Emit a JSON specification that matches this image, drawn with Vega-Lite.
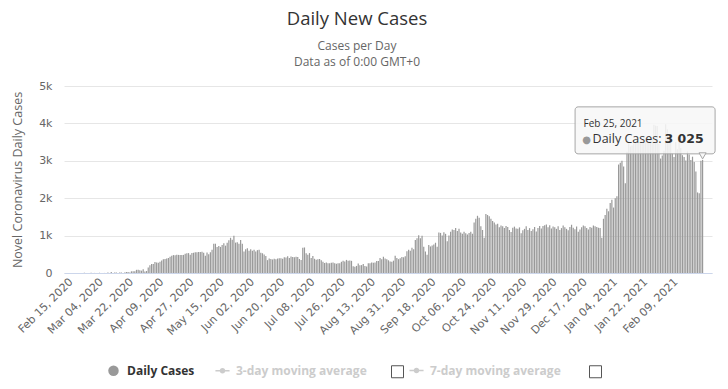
{
"$schema": "https://vega.github.io/schema/vega-lite/v6.json",
"width": 648, "height": 187,
"autosize": {"type": "none"},
"padding": {"left": 64, "top": 86, "right": 16, "bottom": 116},
"title": {"text": "Daily New Cases", "subtitle": ["Cases per Day", "Data as of 0:00 GMT+0"], "anchor": "middle", "frame": "group", "dx": -31, "offset": 12, "fontSize": 18.5, "fontWeight": "normal", "color": "#333333", "font": "Open Sans", "subtitleFontSize": 12, "subtitleColor": "#666666", "subtitleFont": "Open Sans", "subtitlePadding": 13, "subtitleLineHeight": 16},
"datasets": {
"cases": [
{"date":"2020-02-15","cases":0},{"date":"2020-02-16","cases":0},{"date":"2020-02-17","cases":0},{"date":"2020-02-18","cases":0},{"date":"2020-02-19","cases":0},{"date":"2020-02-20","cases":0},{"date":"2020-02-21","cases":0},{"date":"2020-02-22","cases":0},{"date":"2020-02-23","cases":4},{"date":"2020-02-24","cases":0},{"date":"2020-02-25","cases":0},{"date":"2020-02-26","cases":0},{"date":"2020-02-27","cases":6},{"date":"2020-02-28","cases":0},{"date":"2020-02-29","cases":2},
{"date":"2020-03-01","cases":2},{"date":"2020-03-02","cases":0},{"date":"2020-03-03","cases":6},{"date":"2020-03-04","cases":0},{"date":"2020-03-05","cases":0},{"date":"2020-03-06","cases":2},{"date":"2020-03-07","cases":0},{"date":"2020-03-08","cases":15},{"date":"2020-03-09","cases":0},{"date":"2020-03-10","cases":29},{"date":"2020-03-11","cases":0},{"date":"2020-03-12","cases":11},{"date":"2020-03-13","cases":11},{"date":"2020-03-14","cases":0},{"date":"2020-03-15","cases":13},{"date":"2020-03-16","cases":12},{"date":"2020-03-17","cases":0},{"date":"2020-03-18","cases":15},{"date":"2020-03-19","cases":27},{"date":"2020-03-20","cases":27},{"date":"2020-03-21","cases":13},{"date":"2020-03-22","cases":45},{"date":"2020-03-23","cases":45},{"date":"2020-03-24","cases":50},{"date":"2020-03-25","cases":85},{"date":"2020-03-26","cases":85},{"date":"2020-03-27","cases":72},{"date":"2020-03-28","cases":63},{"date":"2020-03-29","cases":102},{"date":"2020-03-30","cases":41},{"date":"2020-03-31","cases":53},
{"date":"2020-04-01","cases":150},{"date":"2020-04-02","cases":210},{"date":"2020-04-03","cases":240},{"date":"2020-04-04","cases":241},{"date":"2020-04-05","cases":294},{"date":"2020-04-06","cases":283},{"date":"2020-04-07","cases":277},{"date":"2020-04-08","cases":300},{"date":"2020-04-09","cases":331},{"date":"2020-04-10","cases":370},{"date":"2020-04-11","cases":376},{"date":"2020-04-12","cases":387},{"date":"2020-04-13","cases":398},{"date":"2020-04-14","cases":432},{"date":"2020-04-15","cases":460},{"date":"2020-04-16","cases":479},{"date":"2020-04-17","cases":477},{"date":"2020-04-18","cases":490},{"date":"2020-04-19","cases":484},{"date":"2020-04-20","cases":483},{"date":"2020-04-21","cases":479},{"date":"2020-04-22","cases":484},{"date":"2020-04-23","cases":518},{"date":"2020-04-24","cases":525},{"date":"2020-04-25","cases":532},{"date":"2020-04-26","cases":490},{"date":"2020-04-27","cases":536},{"date":"2020-04-28","cases":541},{"date":"2020-04-29","cases":552},{"date":"2020-04-30","cases":557},
{"date":"2020-05-01","cases":561},{"date":"2020-05-02","cases":564},{"date":"2020-05-03","cases":567},{"date":"2020-05-04","cases":541},{"date":"2020-05-05","cases":462},{"date":"2020-05-06","cases":546},{"date":"2020-05-07","cases":502},{"date":"2020-05-08","cases":553},{"date":"2020-05-09","cases":624},{"date":"2020-05-10","cases":781},{"date":"2020-05-11","cases":783},{"date":"2020-05-12","cases":698},{"date":"2020-05-13","cases":725},{"date":"2020-05-14","cases":698},{"date":"2020-05-15","cases":747},{"date":"2020-05-16","cases":796},{"date":"2020-05-17","cases":731},{"date":"2020-05-18","cases":812},{"date":"2020-05-19","cases":873},{"date":"2020-05-20","cases":941},{"date":"2020-05-21","cases":892},{"date":"2020-05-22","cases":994},{"date":"2020-05-23","cases":812},{"date":"2020-05-24","cases":822},{"date":"2020-05-25","cases":779},{"date":"2020-05-26","cases":883},{"date":"2020-05-27","cases":779},{"date":"2020-05-28","cases":573},{"date":"2020-05-29","cases":638},{"date":"2020-05-30","cases":661},{"date":"2020-05-31","cases":596},
{"date":"2020-06-01","cases":635},{"date":"2020-06-02","cases":596},{"date":"2020-06-03","cases":623},{"date":"2020-06-04","cases":572},{"date":"2020-06-05","cases":611},{"date":"2020-06-06","cases":624},{"date":"2020-06-07","cases":540},{"date":"2020-06-08","cases":528},{"date":"2020-06-09","cases":497},{"date":"2020-06-10","cases":456},{"date":"2020-06-11","cases":344},{"date":"2020-06-12","cases":388},{"date":"2020-06-13","cases":375},{"date":"2020-06-14","cases":362},{"date":"2020-06-15","cases":384},{"date":"2020-06-16","cases":366},{"date":"2020-06-17","cases":386},{"date":"2020-06-18","cases":392},{"date":"2020-06-19","cases":393},{"date":"2020-06-20","cases":379},{"date":"2020-06-21","cases":424},{"date":"2020-06-22","cases":415},{"date":"2020-06-23","cases":451},{"date":"2020-06-24","cases":404},{"date":"2020-06-25","cases":444},{"date":"2020-06-26","cases":428},{"date":"2020-06-27","cases":420},{"date":"2020-06-28","cases":435},{"date":"2020-06-29","cases":427},{"date":"2020-06-30","cases":375},
{"date":"2020-07-01","cases":350},{"date":"2020-07-02","cases":672},{"date":"2020-07-03","cases":683},{"date":"2020-07-04","cases":530},{"date":"2020-07-05","cases":489},{"date":"2020-07-06","cases":532},{"date":"2020-07-07","cases":402},{"date":"2020-07-08","cases":456},{"date":"2020-07-09","cases":380},{"date":"2020-07-10","cases":355},{"date":"2020-07-11","cases":370},{"date":"2020-07-12","cases":375},{"date":"2020-07-13","cases":340},{"date":"2020-07-14","cases":300},{"date":"2020-07-15","cases":270},{"date":"2020-07-16","cases":283},{"date":"2020-07-17","cases":264},{"date":"2020-07-18","cases":258},{"date":"2020-07-19","cases":275},{"date":"2020-07-20","cases":281},{"date":"2020-07-21","cases":264},{"date":"2020-07-22","cases":246},{"date":"2020-07-23","cases":260},{"date":"2020-07-24","cases":262},{"date":"2020-07-25","cases":300},{"date":"2020-07-26","cases":325},{"date":"2020-07-27","cases":309},{"date":"2020-07-28","cases":350},{"date":"2020-07-29","cases":330},{"date":"2020-07-30","cases":336},{"date":"2020-07-31","cases":325},
{"date":"2020-08-01","cases":179},{"date":"2020-08-02","cases":164},{"date":"2020-08-03","cases":189},{"date":"2020-08-04","cases":254},{"date":"2020-08-05","cases":206},{"date":"2020-08-06","cases":211},{"date":"2020-08-07","cases":239},{"date":"2020-08-08","cases":185},{"date":"2020-08-09","cases":176},{"date":"2020-08-10","cases":262},{"date":"2020-08-11","cases":258},{"date":"2020-08-12","cases":281},{"date":"2020-08-13","cases":273},{"date":"2020-08-14","cases":283},{"date":"2020-08-15","cases":321},{"date":"2020-08-16","cases":322},{"date":"2020-08-17","cases":400},{"date":"2020-08-18","cases":365},{"date":"2020-08-19","cases":435},{"date":"2020-08-20","cases":390},{"date":"2020-08-21","cases":370},{"date":"2020-08-22","cases":340},{"date":"2020-08-23","cases":305},{"date":"2020-08-24","cases":300},{"date":"2020-08-25","cases":330},{"date":"2020-08-26","cases":460},{"date":"2020-08-27","cases":401},{"date":"2020-08-28","cases":370},{"date":"2020-08-29","cases":394},{"date":"2020-08-30","cases":430},{"date":"2020-08-31","cases":420},
{"date":"2020-09-01","cases":450},{"date":"2020-09-02","cases":580},{"date":"2020-09-03","cases":625},{"date":"2020-09-04","cases":598},{"date":"2020-09-05","cases":672},{"date":"2020-09-06","cases":635},{"date":"2020-09-07","cases":883},{"date":"2020-09-08","cases":930},{"date":"2020-09-09","cases":1007},{"date":"2020-09-10","cases":931},{"date":"2020-09-11","cases":994},{"date":"2020-09-12","cases":700},{"date":"2020-09-13","cases":575},{"date":"2020-09-14","cases":490},{"date":"2020-09-15","cases":750},{"date":"2020-09-16","cases":710},{"date":"2020-09-17","cases":735},{"date":"2020-09-18","cases":760},{"date":"2020-09-19","cases":809},{"date":"2020-09-20","cases":705},{"date":"2020-09-21","cases":1083},{"date":"2020-09-22","cases":1072},{"date":"2020-09-23","cases":1004},{"date":"2020-09-24","cases":1088},{"date":"2020-09-25","cases":1047},{"date":"2020-09-26","cases":850},{"date":"2020-09-27","cases":1005},{"date":"2020-09-28","cases":1100},{"date":"2020-09-29","cases":1160},{"date":"2020-09-30","cases":1150},
{"date":"2020-10-01","cases":1200},{"date":"2020-10-02","cases":1120},{"date":"2020-10-03","cases":1180},{"date":"2020-10-04","cases":1080},{"date":"2020-10-05","cases":1050},{"date":"2020-10-06","cases":1100},{"date":"2020-10-07","cases":1060},{"date":"2020-10-08","cases":1030},{"date":"2020-10-09","cases":1070},{"date":"2020-10-10","cases":1100},{"date":"2020-10-11","cases":1050},{"date":"2020-10-12","cases":1350},{"date":"2020-10-13","cases":1450},{"date":"2020-10-14","cases":1530},{"date":"2020-10-15","cases":1480},{"date":"2020-10-16","cases":1250},{"date":"2020-10-17","cases":1150},{"date":"2020-10-18","cases":940},{"date":"2020-10-19","cases":1578},{"date":"2020-10-20","cases":1550},{"date":"2020-10-21","cases":1520},{"date":"2020-10-22","cases":1450},{"date":"2020-10-23","cases":1390},{"date":"2020-10-24","cases":1350},{"date":"2020-10-25","cases":1300},{"date":"2020-10-26","cases":1320},{"date":"2020-10-27","cases":1220},{"date":"2020-10-28","cases":1270},{"date":"2020-10-29","cases":1250},{"date":"2020-10-30","cases":1200},{"date":"2020-10-31","cases":1260},
{"date":"2020-11-01","cases":1230},{"date":"2020-11-02","cases":1150},{"date":"2020-11-03","cases":1096},{"date":"2020-11-04","cases":1210},{"date":"2020-11-05","cases":1240},{"date":"2020-11-06","cases":1190},{"date":"2020-11-07","cases":1180},{"date":"2020-11-08","cases":1220},{"date":"2020-11-09","cases":1060},{"date":"2020-11-10","cases":1140},{"date":"2020-11-11","cases":1180},{"date":"2020-11-12","cases":1250},{"date":"2020-11-13","cases":1150},{"date":"2020-11-14","cases":1200},{"date":"2020-11-15","cases":1120},{"date":"2020-11-16","cases":1170},{"date":"2020-11-17","cases":1230},{"date":"2020-11-18","cases":1110},{"date":"2020-11-19","cases":1200},{"date":"2020-11-20","cases":1260},{"date":"2020-11-21","cases":1190},{"date":"2020-11-22","cases":1260},{"date":"2020-11-23","cases":1280},{"date":"2020-11-24","cases":1300},{"date":"2020-11-25","cases":1220},{"date":"2020-11-26","cases":1280},{"date":"2020-11-27","cases":1190},{"date":"2020-11-28","cases":1240},{"date":"2020-11-29","cases":1220},{"date":"2020-11-30","cases":1180},
{"date":"2020-12-01","cases":1250},{"date":"2020-12-02","cases":1150},{"date":"2020-12-03","cases":1200},{"date":"2020-12-04","cases":1270},{"date":"2020-12-05","cases":1220},{"date":"2020-12-06","cases":1180},{"date":"2020-12-07","cases":1140},{"date":"2020-12-08","cases":1230},{"date":"2020-12-09","cases":1290},{"date":"2020-12-10","cases":1210},{"date":"2020-12-11","cases":1170},{"date":"2020-12-12","cases":1240},{"date":"2020-12-13","cases":1100},{"date":"2020-12-14","cases":1160},{"date":"2020-12-15","cases":1220},{"date":"2020-12-16","cases":1270},{"date":"2020-12-17","cases":1250},{"date":"2020-12-18","cases":1200},{"date":"2020-12-19","cases":1160},{"date":"2020-12-20","cases":1230},{"date":"2020-12-21","cases":1210},{"date":"2020-12-22","cases":1270},{"date":"2020-12-23","cases":1250},{"date":"2020-12-24","cases":1230},{"date":"2020-12-25","cases":1210},{"date":"2020-12-26","cases":1200},{"date":"2020-12-27","cases":940},{"date":"2020-12-28","cases":1450},{"date":"2020-12-29","cases":1550},{"date":"2020-12-30","cases":1720},{"date":"2020-12-31","cases":1650},
{"date":"2021-01-01","cases":1870},{"date":"2021-01-02","cases":1960},{"date":"2021-01-03","cases":1750},{"date":"2021-01-04","cases":2000},{"date":"2021-01-05","cases":2050},{"date":"2021-01-06","cases":2900},{"date":"2021-01-07","cases":2950},{"date":"2021-01-08","cases":3000},{"date":"2021-01-09","cases":2850},{"date":"2021-01-10","cases":2400},{"date":"2021-01-11","cases":3243},{"date":"2021-01-12","cases":3471},{"date":"2021-01-13","cases":3382},{"date":"2021-01-14","cases":3407},{"date":"2021-01-15","cases":3453},{"date":"2021-01-16","cases":3506},{"date":"2021-01-17","cases":3471},{"date":"2021-01-18","cases":3492},{"date":"2021-01-19","cases":3529},{"date":"2021-01-20","cases":3566},{"date":"2021-01-21","cases":3552},{"date":"2021-01-22","cases":3600},{"date":"2021-01-23","cases":3579},{"date":"2021-01-24","cases":3539},{"date":"2021-01-25","cases":3567},{"date":"2021-01-26","cases":3591},{"date":"2021-01-27","cases":3962},{"date":"2021-01-28","cases":3939},{"date":"2021-01-29","cases":3928},{"date":"2021-01-30","cases":3450},{"date":"2021-01-31","cases":3060},
{"date":"2021-02-01","cases":3140},{"date":"2021-02-02","cases":3268},{"date":"2021-02-03","cases":3977},{"date":"2021-02-04","cases":3843},{"date":"2021-02-05","cases":3566},{"date":"2021-02-06","cases":3500},{"date":"2021-02-07","cases":3200},{"date":"2021-02-08","cases":3100},{"date":"2021-02-09","cases":3500},{"date":"2021-02-10","cases":3310},{"date":"2021-02-11","cases":3610},{"date":"2021-02-12","cases":3340},{"date":"2021-02-13","cases":3150},{"date":"2021-02-14","cases":3100},{"date":"2021-02-15","cases":3005},{"date":"2021-02-16","cases":3250},{"date":"2021-02-17","cases":3170},{"date":"2021-02-18","cases":3020},{"date":"2021-02-19","cases":3110},{"date":"2021-02-20","cases":2966},{"date":"2021-02-21","cases":2714},{"date":"2021-02-22","cases":2154},{"date":"2021-02-23","cases":2134},{"date":"2021-02-24","cases":3001},{"date":"2021-02-25","cases":3025}
],
"hover": [{"date":"2021-02-25","cases":3025}]
},
"encoding": {
  "x": {"field": "date", "type": "temporal",
   "scale": {"type": "utc", "domain": [1581624000000, 1614438000000]},
   "axis": {"values": [
     {"year":2020,"month":2,"date":15,"utc":true},{"year":2020,"month":3,"date":4,"utc":true},{"year":2020,"month":3,"date":22,"utc":true},{"year":2020,"month":4,"date":9,"utc":true},{"year":2020,"month":4,"date":27,"utc":true},{"year":2020,"month":5,"date":15,"utc":true},{"year":2020,"month":6,"date":2,"utc":true},{"year":2020,"month":6,"date":20,"utc":true},{"year":2020,"month":7,"date":8,"utc":true},{"year":2020,"month":7,"date":26,"utc":true},{"year":2020,"month":8,"date":13,"utc":true},{"year":2020,"month":8,"date":31,"utc":true},{"year":2020,"month":9,"date":18,"utc":true},{"year":2020,"month":10,"date":6,"utc":true},{"year":2020,"month":10,"date":24,"utc":true},{"year":2020,"month":11,"date":11,"utc":true},{"year":2020,"month":11,"date":29,"utc":true},{"year":2020,"month":12,"date":17,"utc":true},{"year":2021,"month":1,"date":4,"utc":true},{"year":2021,"month":1,"date":22,"utc":true},{"year":2021,"month":2,"date":9,"utc":true}],
    "format": "%b %d, %Y", "labelAngle": -45, "labelAlign": "right", "labelBaseline": "middle", "labelPadding": 7,
    "ticks": false, "grid": false, "domainColor": "#ccd6eb", "labelColor": "#666666", "labelFontSize": 11, "labelFont": "DejaVu Sans",
    "title": null, "labelOverlap": false, "labelFlush": false, "labelBound": false}},
  "y": {"field": "cases", "type": "quantitative",
   "scale": {"domain": [0, 5000], "nice": false},
   "axis": {"values": [0,1000,2000,3000,4000,5000], "labelExpr": "datum.value == 0 ? '0' : (datum.value / 1000) + 'k'",
    "title": "Novel Coronavirus Daily Cases", "titleFontWeight": "normal", "titleFontSize": 12.5, "titleFont": "Open Sans", "titleColor": "#666666", "titlePadding": 14,
    "domain": false, "ticks": false, "gridColor": "#e6e6e6", "labelColor": "#666666", "labelFontSize": 11, "labelFont": "DejaVu Sans", "labelPadding": 12, "labelOverlap": false}}
},
"layer": [
{"data": {"name": "cases"},
 "mark": {"type": "bar", "size": 1.2},
 "encoding": {
  "color": {"datum": "Daily Cases", "type": "nominal",
   "scale": {"domain": ["Daily Cases", "3-day moving average"], "range": ["#999999", "#cccccc"]},
   "legend": {"orient": "none", "legendX": 42, "legendY": 277, "direction": "horizontal", "title": null,
    "labelFontSize": 12, "labelFontWeight": "bold", "labelFont": "Open Sans", "columnPadding": 20, "symbolSize": 200, "symbolStrokeWidth": 0, "labelOffset": 6, "labelLimit": 300,
    "encode": {
     "labels": {"update": {"fill": {"signal": "datum.value == 'Daily Cases' ? '#333333' : '#cccccc'"}}},
     "symbols": {"update": {
       "shape": {"signal": "datum.value == 'Daily Cases' ? 'circle' : 'M-1,-0.1L1,-0.1L1,0.1L-1,0.1Z M-0.4,0A0.4,0.4,0,1,1,0.4,0A0.4,0.4,0,1,1,-0.4,0Z'"},
       "size": {"signal": "datum.value == 'Daily Cases' ? 110 : 200"}}}}}}
 }},
{"data": {"name": "hover"},
 "mark": {"type": "point", "filled": true, "opacity": 0},
 "encoding": {
  "fill": {"datum": "7-day moving average", "type": "nominal", "scale": {"domain": ["7-day moving average"], "range": ["#cccccc"]},
   "legend": {"orient": "none", "legendX": 345, "legendY": 277, "direction": "horizontal", "title": null,
    "labelFontSize": 12, "labelFontWeight": "bold", "labelFont": "Open Sans", "labelColor": "#cccccc", "symbolSize": 200, "symbolStrokeWidth": 0, "labelOffset": 6, "labelLimit": 300, "symbolOpacity": 1,
    "symbolType": "M-1,-0.1L1,-0.1L1,0.1L-1,0.1Z M-0.4,0A0.4,0.4,0,1,1,0.4,0A0.4,0.4,0,1,1,-0.4,0Z"}}}},
{"data": {"name": "hover"},
 "mark": {"type": "rect", "width": 140, "height": 47, "xOffset": -57.5, "yOffset": -29.5, "fill": "#f7f7f7", "fillOpacity": 0.88, "stroke": "#a6a6a6", "strokeWidth": 1, "cornerRadius": 3}},
{"data": {"name": "hover"},
 "mark": {"type": "point", "shape": "triangle-down", "size": 50, "filled": true, "fill": "#f7f7f7", "stroke": "#a6a6a6", "strokeWidth": 1, "opacity": 1, "yOffset": -4}},
{"data": {"name": "hover"},
 "mark": {"type": "text", "align": "left", "baseline": "alphabetic", "dx": -119, "dy": -33, "fontSize": 10, "font": "Open Sans", "color": "#333333"},
 "encoding": {"text": {"field": "date", "type": "temporal", "timeUnit": "utcyearmonthdate", "format": "%b %d, %Y"}}},
{"data": {"name": "hover"},
 "mark": {"type": "text", "align": "center", "baseline": "alphabetic", "dx": -116, "dy": -17, "fontSize": 10, "font": "DejaVu Sans", "color": "#999999", "text": "●"}},
{"data": {"name": "hover"},
 "mark": {"type": "text", "align": "left", "baseline": "alphabetic", "dx": -110, "dy": -17, "fontSize": 12.5, "font": "Open Sans", "color": "#333333", "text": "Daily Cases:"}},
{"data": {"name": "hover"},
 "mark": {"type": "text", "align": "right", "baseline": "alphabetic", "dx": 1, "dy": -17, "fontSize": 12.5, "fontWeight": "bold", "font": "DejaVu Sans", "color": "#333333"},
 "encoding": {"text": {"field": "cases", "type": "quantitative", "format": ",d"}}},
{"data": {"name": "hover"},
 "mark": {"type": "point", "filled": false, "opacity": 0},
 "encoding": {
  "shape": {"datum": "c3", "type": "nominal", "scale": {"domain": ["c3", "c7"], "range": ["square", "square"]},
   "legend": {"orient": "none", "legendX": 327, "legendY": 279, "direction": "horizontal", "title": null,
    "labelExpr": "''", "labelOffset": 0, "labelFontSize": 1, "columnPadding": 181, "symbolSize": 144, "symbolOpacity": 1,
    "symbolFillColor": "#ffffff", "symbolStrokeColor": "#555555", "symbolStrokeWidth": 1}}}}
],
"config": {
 "view": {"stroke": null},
 "font": "Open Sans",
 "axis": {"labelOverlap": false},
 "locale": {"number": {"decimal": ".", "thousands": " ", "grouping": [3], "currency": ["", ""]}}
}
}
